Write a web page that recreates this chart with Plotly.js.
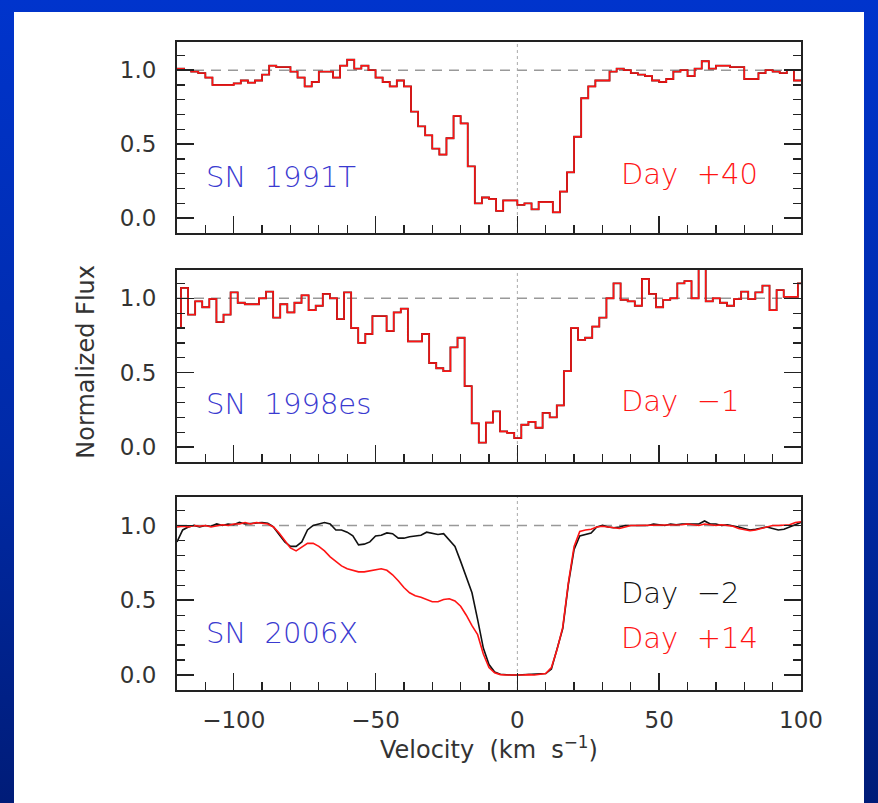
<!DOCTYPE html>
<html>
<head>
<meta charset="utf-8">
<script src="https://cdn.plot.ly/plotly-3.0.1.min.js"></script>
<style>
html,body{margin:0;padding:0;width:878px;height:803px;overflow:hidden;}
body{background:linear-gradient(to bottom,#0034cc 0%,#002aa8 55%,#001c78 100%);position:relative;}
#panel{position:absolute;left:14px;top:12px;width:850px;height:791px;background:#ffffff;}
#chart{position:absolute;left:0;top:0;width:878px;height:803px;}
</style>
</head>
<body>
<div id="panel"></div>
<div id="chart"></div>
<script>
// ---------------- DATA ----------------
// SN 1991T, Day +40 : left bin edges (km/s) and normalized flux
const vel1991T = [-120,-117.5,-115,-112.5,-110,-107.5,-105,-102.5,-100,-97.5,
  -95,-92.5,-90,-87.5,-85,-82.5,-80,-77.5,-75,-72.5,
  -70,-67.5,-65,-62.5,-60,-57.5,-55,-52.5,-50,-47.5,
  -45,-42.5,-40,-37.5,-35,-32.5,-30,-27.5,-25,-22.5,
  -20,-17.5,-15,-12.5,-10,-7.5,-5,-2.5,0,2.5,
  5,7.5,10,12.5,15,17.5,20,22.5,25,27.5,
  30,32.5,35,37.5,40,42.5,45,47.5,50,52.5,
  55,57.5,60,62.5,65,67.5,70,72.5,75,77.5,
  80,82.5,85,87.5,90,92.5,95,97.5];
const flux1991T = [1.01,1.0,0.99,0.98,0.95,0.90,0.90,0.90,0.91,0.93,
  0.915,0.93,0.97,1.03,1.02,1.02,0.99,0.95,0.89,0.92,
  0.99,0.99,0.95,1.03,1.07,1.01,1.03,1.0,0.95,0.92,
  0.89,0.93,0.89,0.72,0.62,0.56,0.47,0.43,0.54,0.69,
  0.64,0.35,0.10,0.14,0.13,0.05,0.12,0.12,0.09,0.10,
  0.06,0.11,0.11,0.04,0.18,0.31,0.55,0.81,0.89,0.93,
  0.93,0.99,1.01,1.0,0.98,0.97,0.96,0.93,0.92,0.94,
  0.99,1.0,0.96,1.01,1.06,1.01,1.03,1.03,1.02,1.02,
  0.94,0.94,0.98,1.0,0.99,0.98,1.0,0.93];

// SN 1998es, Day -1 : left bin edges (km/s) and normalized flux
const vel1998es = [-121.1,-118.6,-116.1,-113.6,-111.1,-108.6,-106.1,-103.6,-101.1,-98.6,
  -96.1,-93.6,-91.1,-88.6,-86.1,-83.6,-81.1,-78.6,-76.1,-73.6,
  -71.1,-68.6,-66.1,-63.6,-61.1,-58.6,-56.1,-53.6,-51.1,-48.6,
  -46.1,-43.6,-41.1,-38.6,-36.1,-33.6,-31.1,-28.6,-26.1,-23.6,
  -21.1,-18.6,-16.1,-13.6,-11.1,-8.6,-6.1,-3.6,-1.1,1.4,
  3.9,6.4,8.9,11.4,13.9,16.4,18.9,21.4,23.9,26.4,
  28.9,31.4,33.9,36.4,38.9,41.4,43.9,46.4,48.9,51.4,
  53.9,56.4,58.9,61.4,63.9,66.4,68.9,71.4,73.9,76.4,
  78.9,81.4,83.9,86.4,88.9,91.4,93.9,96.4,98.9];
const flux1998es = [0.80,1.07,0.89,0.98,0.94,0.995,0.84,0.89,1.04,0.97,
  0.96,0.96,1.0,1.045,0.87,0.96,0.905,0.97,1.02,0.92,
  0.95,1.03,1.0,0.86,1.04,0.80,0.70,0.76,0.88,0.88,
  0.78,0.905,0.93,0.71,0.71,0.76,0.565,0.53,0.51,0.67,
  0.735,0.41,0.16,0.03,0.165,0.24,0.105,0.095,0.06,0.15,
  0.17,0.13,0.23,0.20,0.28,0.51,0.80,0.72,0.735,0.81,
  0.87,1.0,1.10,0.99,0.98,0.95,1.13,1.03,0.94,0.99,
  1.0,1.10,1.115,1.0,1.25,0.98,1.0,0.97,0.95,0.995,
  1.045,0.995,1.04,1.085,0.92,1.055,1.01,1.01,1.10];

// SN 2006X : velocity grid (km/s), Day -2 and Day +14 normalized flux
const vel2006X = [-120,-118,-116,-114,-112,-110,-108,-106,-104,-102,
  -100,-98,-96,-94,-92,-90,-88,-86,-84,-82,
  -80,-78,-76,-74,-72,-70,-68,-66,-64,-62,
  -60,-58,-56,-54,-52,-50,-48,-46,-44,-42,
  -40,-38,-36,-34,-32,-30,-28,-26,-24,-22,
  -20,-18,-16,-14,-12,-10,-8,-6,-4,-2,
  0,2,4,6,8,10,12,14,16,18,
  20,22,24,26,28,30,32,34,36,38,
  40,42,44,46,48,50,52,54,56,58,
  60,62,64,66,68,70,72,74,76,78,
  80,82,84,86,88,90,92,94,96,98,
  100];
const fluxDayM2 = [0.89,0.97,0.99,1.0,0.99,1.0,0.995,1.01,1.0,1.01,
  1.005,1.02,1.01,1.015,1.02,1.02,1.015,0.99,0.94,0.89,
  0.86,0.86,0.89,0.97,1.0,1.01,1.02,1.01,0.97,0.97,
  0.955,0.93,0.87,0.875,0.89,0.93,0.935,0.95,0.945,0.915,
  0.915,0.925,0.93,0.935,0.955,0.945,0.94,0.945,0.905,0.86,
  0.76,0.66,0.55,0.37,0.18,0.07,0.02,0.005,0.0,0.0,
  0.0,0.002,0.0,0.005,0.003,0.01,0.04,0.17,0.31,0.61,
  0.84,0.93,0.94,0.95,0.99,1.0,0.99,0.985,0.99,1.0,
  1.0,1.0,1.005,1.0,1.01,1.005,1.0,1.01,1.005,1.01,
  1.01,1.015,1.01,1.03,1.01,1.01,1.0,1.005,1.0,0.99,
  0.98,0.97,0.975,0.985,0.99,0.98,0.97,0.975,0.99,1.01,
  1.02];
const fluxDayP14 = [0.99,0.995,0.99,1.0,0.995,1.0,0.99,1.0,1.005,1.0,
  1.01,1.01,1.02,1.01,1.02,1.015,1.01,0.99,0.95,0.90,
  0.85,0.83,0.855,0.88,0.88,0.86,0.83,0.79,0.76,0.73,
  0.71,0.70,0.69,0.69,0.695,0.705,0.71,0.70,0.67,0.63,
  0.585,0.55,0.53,0.52,0.505,0.49,0.49,0.505,0.51,0.495,
  0.46,0.40,0.33,0.27,0.14,0.05,0.015,0.003,0.0,0.002,
  0.0,0.0,0.003,0.0,0.004,0.01,0.05,0.17,0.32,0.62,
  0.86,0.96,0.97,0.975,0.99,0.995,0.99,0.985,0.98,0.99,
  1.0,1.0,1.0,1.005,1.0,1.005,1.0,1.005,1.0,1.005,
  1.01,1.005,1.0,1.01,1.005,1.0,1.005,1.0,0.995,0.98,
  0.97,0.965,0.97,0.98,0.99,1.0,1.0,1.0,1.005,1.02,
  1.025];

const yTickLabels = ['0.0','0.5','1.0'];
const xTickLabels = ['\u2212100','\u221250','0','50','100'];

// ---------------- STYLE ----------------
const FONT = 'DejaVu Sans, Liberation Sans, Arial, sans-serif';
const RED = '#ff1414';
const BLUE = '#3a3ad0';
const AXC = '#222222';

function stepTrace(v, f, xa, ya, color, width) {
  const xs = v.slice(); const ys = f.slice();
  xs.push(v[v.length-1] + (v[v.length-1]-v[v.length-2]));
  ys.push(f[f.length-1]);
  return {x: xs, y: ys, xaxis: xa, yaxis: ya, type: 'scatter', mode: 'lines',
    line: {shape: 'hv', color: color, width: width}, hoverinfo: 'skip', showlegend: false};
}
function lineTrace(v, f, xa, ya, color, width) {
  return {x: v, y: f, xaxis: xa, yaxis: ya, type: 'scatter', mode: 'lines',
    line: {color: color, width: width}, hoverinfo: 'skip', showlegend: false};
}

const traces = [
  stepTrace(vel1991T, flux1991T, 'x', 'y', '#5a1010', 1.8),
  stepTrace(vel1991T, flux1991T, 'x', 'y', RED, 1.4),
  stepTrace(vel1998es, flux1998es, 'x2', 'y2', '#5a1010', 1.8),
  stepTrace(vel1998es, flux1998es, 'x2', 'y2', RED, 1.4),
  lineTrace(vel2006X, fluxDayM2, 'x3', 'y3', '#111111', 1.6),
  lineTrace(vel2006X, fluxDayP14, 'x3', 'y3', RED, 1.6)
];

function xAxis(anchor, showLabels) {
  return {anchor: anchor, domain: [0, 1], range: [-120, 100], showgrid: false, zeroline: false,
    showline: true, mirror: true, linecolor: AXC, linewidth: 2,
    ticks: 'inside', ticklen: 17, tickwidth: 1.5, tickcolor: AXC,
    tickmode: 'array', tickvals: [-100, -50, 0, 50, 100], ticktext: xTickLabels,
    minor: {tickmode: 'linear', tick0: 0, dtick: 10, ticks: 'inside', ticklen: 8, tickwidth: 1.3, tickcolor: AXC, showgrid: false},
    showticklabels: showLabels, ticklabelstandoff: 8,
    tickfont: {family: FONT, size: 23, color: '#333'}, fixedrange: true};
}
function yAxis(anchor, domain) {
  return {anchor: anchor, domain: domain, range: [-0.1, 1.19], showgrid: false, zeroline: false,
    showline: true, mirror: 'allticks', linecolor: AXC, linewidth: 2,
    ticks: 'inside', ticklen: 17, tickwidth: 1.5, tickcolor: AXC,
    tickmode: 'array', tickvals: [0, 0.5, 1.0], ticktext: yTickLabels,
    minor: {tickmode: 'linear', tick0: 0, dtick: 0.1, ticks: 'inside', ticklen: 8, tickwidth: 1.3, tickcolor: AXC, showgrid: false},
    ticklabelstandoff: 14,
    tickfont: {family: FONT, size: 23, color: '#333'}, fixedrange: true};
}

function refLines(xa, ya) {
  return [
    {type: 'line', xref: xa + ' domain', yref: ya, x0: 0, x1: 1, y0: 1, y1: 1,
      line: {color: '#999999', width: 1.5, dash: '10px,7px'}, layer: 'below'},
    {type: 'line', xref: xa, yref: ya + ' domain', x0: 0, x1: 0, y0: 0, y1: 1,
      line: {color: '#aaaaaa', width: 1, dash: 'dot'}, layer: 'below'}
  ];
}

function label(text, xa, ya, x, y, color) {
  return {text: text, xref: xa, yref: ya, x: x, y: y, xanchor: 'left', yanchor: 'middle',
    showarrow: false, font: {family: FONT, size: 29, color: color, weight: 200}};
}
const NB = '\u00a0';
const annotations = [
  label('SN' + NB + NB + '1991T', 'x', 'y', -110.5, 0.28, BLUE),
  label('Day' + NB + NB + '+40', 'x', 'y', 36, 0.30, RED),
  label('SN' + NB + NB + '1998es', 'x2', 'y2', -110.5, 0.29, BLUE),
  label('Day' + NB + NB + '\u22121', 'x2', 'y2', 36, 0.31, RED),
  label('SN' + NB + NB + '2006X', 'x3', 'y3', -110.5, 0.28, BLUE),
  label('Day' + NB + NB + '\u22122', 'x3', 'y3', 36, 0.55, '#111111'),
  label('Day' + NB + NB + '+14', 'x3', 'y3', 36, 0.25, RED),
  {text: 'Normalized' + NB + 'Flux', xref: 'paper', yref: 'paper', x: -0.145, y: 0.506,
    xanchor: 'center', yanchor: 'middle', textangle: -90, showarrow: false,
    font: {family: FONT, size: 24, color: '#333'}},
  {text: 'Velocity' + NB + NB + '(km' + NB + NB + 's<sup>\u22121</sup>)', xref: 'paper', yref: 'paper', x: 0.5, y: -0.09,
    xanchor: 'center', yanchor: 'middle', showarrow: false,
    font: {family: FONT, size: 24, color: '#333'}}
];

const layout = {
  width: 878, height: 803,
  margin: {l: 177, r: 77, t: 42, b: 113, pad: 0},
  paper_bgcolor: 'rgba(0,0,0,0)', plot_bgcolor: '#ffffff',
  showlegend: false,
  xaxis: xAxis('y', false),
  xaxis2: xAxis('y2', false),
  xaxis3: xAxis('y3', true),
  yaxis: yAxis('x', [0.7052, 1.0]),
  yaxis2: yAxis('x2', [0.3519, 0.6481]),
  yaxis3: yAxis('x3', [0.0, 0.2978]),
  shapes: [].concat(refLines('x', 'y'), refLines('x2', 'y2'), refLines('x3', 'y3')),
  annotations: annotations
};

Plotly.newPlot('chart', traces, layout, {displayModeBar: false, staticPlot: true});
</script>
</body>
</html>
